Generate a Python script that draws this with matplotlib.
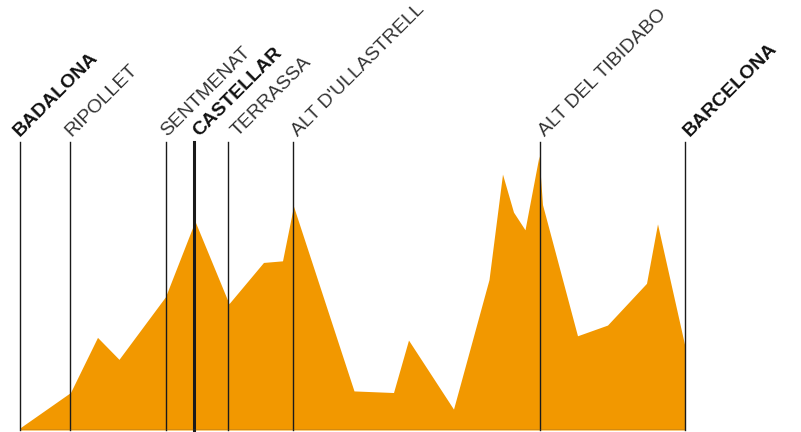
import matplotlib
matplotlib.use('Agg')
import matplotlib.pyplot as plt

# perfil de la ruta: distancia (km) i altitud (m)
dist_km = [0, 10.1, 15.5, 19.8, 29.1, 35.0, 41.8, 48.7, 52.5, 54.7, 66.8, 74.7,
           77.7, 86.7, 93.8, 96.5, 98.7, 101.0, 103.8, 104.5, 111.5, 117.5,
           125.3, 127.5, 133.0]
alt_m = [4, 70, 173, 132, 249, 390, 236, 313, 316, 418, 73, 70,
         168, 39, 281, 478, 407, 374, 512, 421, 176, 196,
         274, 385, 156]

# punts de pas
llocs = ['BADALONA', 'RIPOLLET', 'SENTMENAT', 'CASTELLAR', 'TERRASSA',
         "ALT D'ULLASTRELL", 'ALT DEL TIBIDABO', 'BARCELONA']
llocs_km = [0, 10.0, 29.2, 34.8, 41.6, 54.6, 104.0, 133.0]
destacat = [True, False, False, True, False, False, False, True]

W, H = 801, 432
fig = plt.figure(figsize=(W / 100, H / 100), dpi=100)
ax = fig.add_axes([20 / W, 2 / H, 665 / W, 288 / H])
ax.set_xlim(0, 133)
ax.set_ylim(0, 538)
ax.axis('off')

ax.fill_between(dist_km, alt_m, 0, color='#f29800', lw=0, zorder=1)
ax.axhline(0, color='#555555', lw=1, zorder=3)

# petits ajustos (px) perque les etiquetes no es trepitgin
desplac = {'BADALONA': 0, 'RIPOLLET': 1.5, 'SENTMENAT': 1, 'TERRASSA': 10}

for nom, km, bold in zip(llocs, llocs_km, destacat):
    gruix = 2.2 if nom == 'CASTELLAR' else 1.0
    ax.plot([km, km], [0, 538], color='#1a1a1a', lw=gruix, zorder=2, clip_on=False)
    dx = desplac.get(nom, 5) * 0.72
    ax.annotate(nom, xy=(km, 538), xytext=(dx, 3.6), textcoords='offset points',
                rotation=45, rotation_mode='anchor', ha='left', va='baseline',
                fontsize=14, family='Liberation Sans',
                fontweight='bold' if bold else 'normal',
                color='#111111' if bold else '#333333',
                annotation_clip=False)

fig.savefig('out.png', dpi=100)
